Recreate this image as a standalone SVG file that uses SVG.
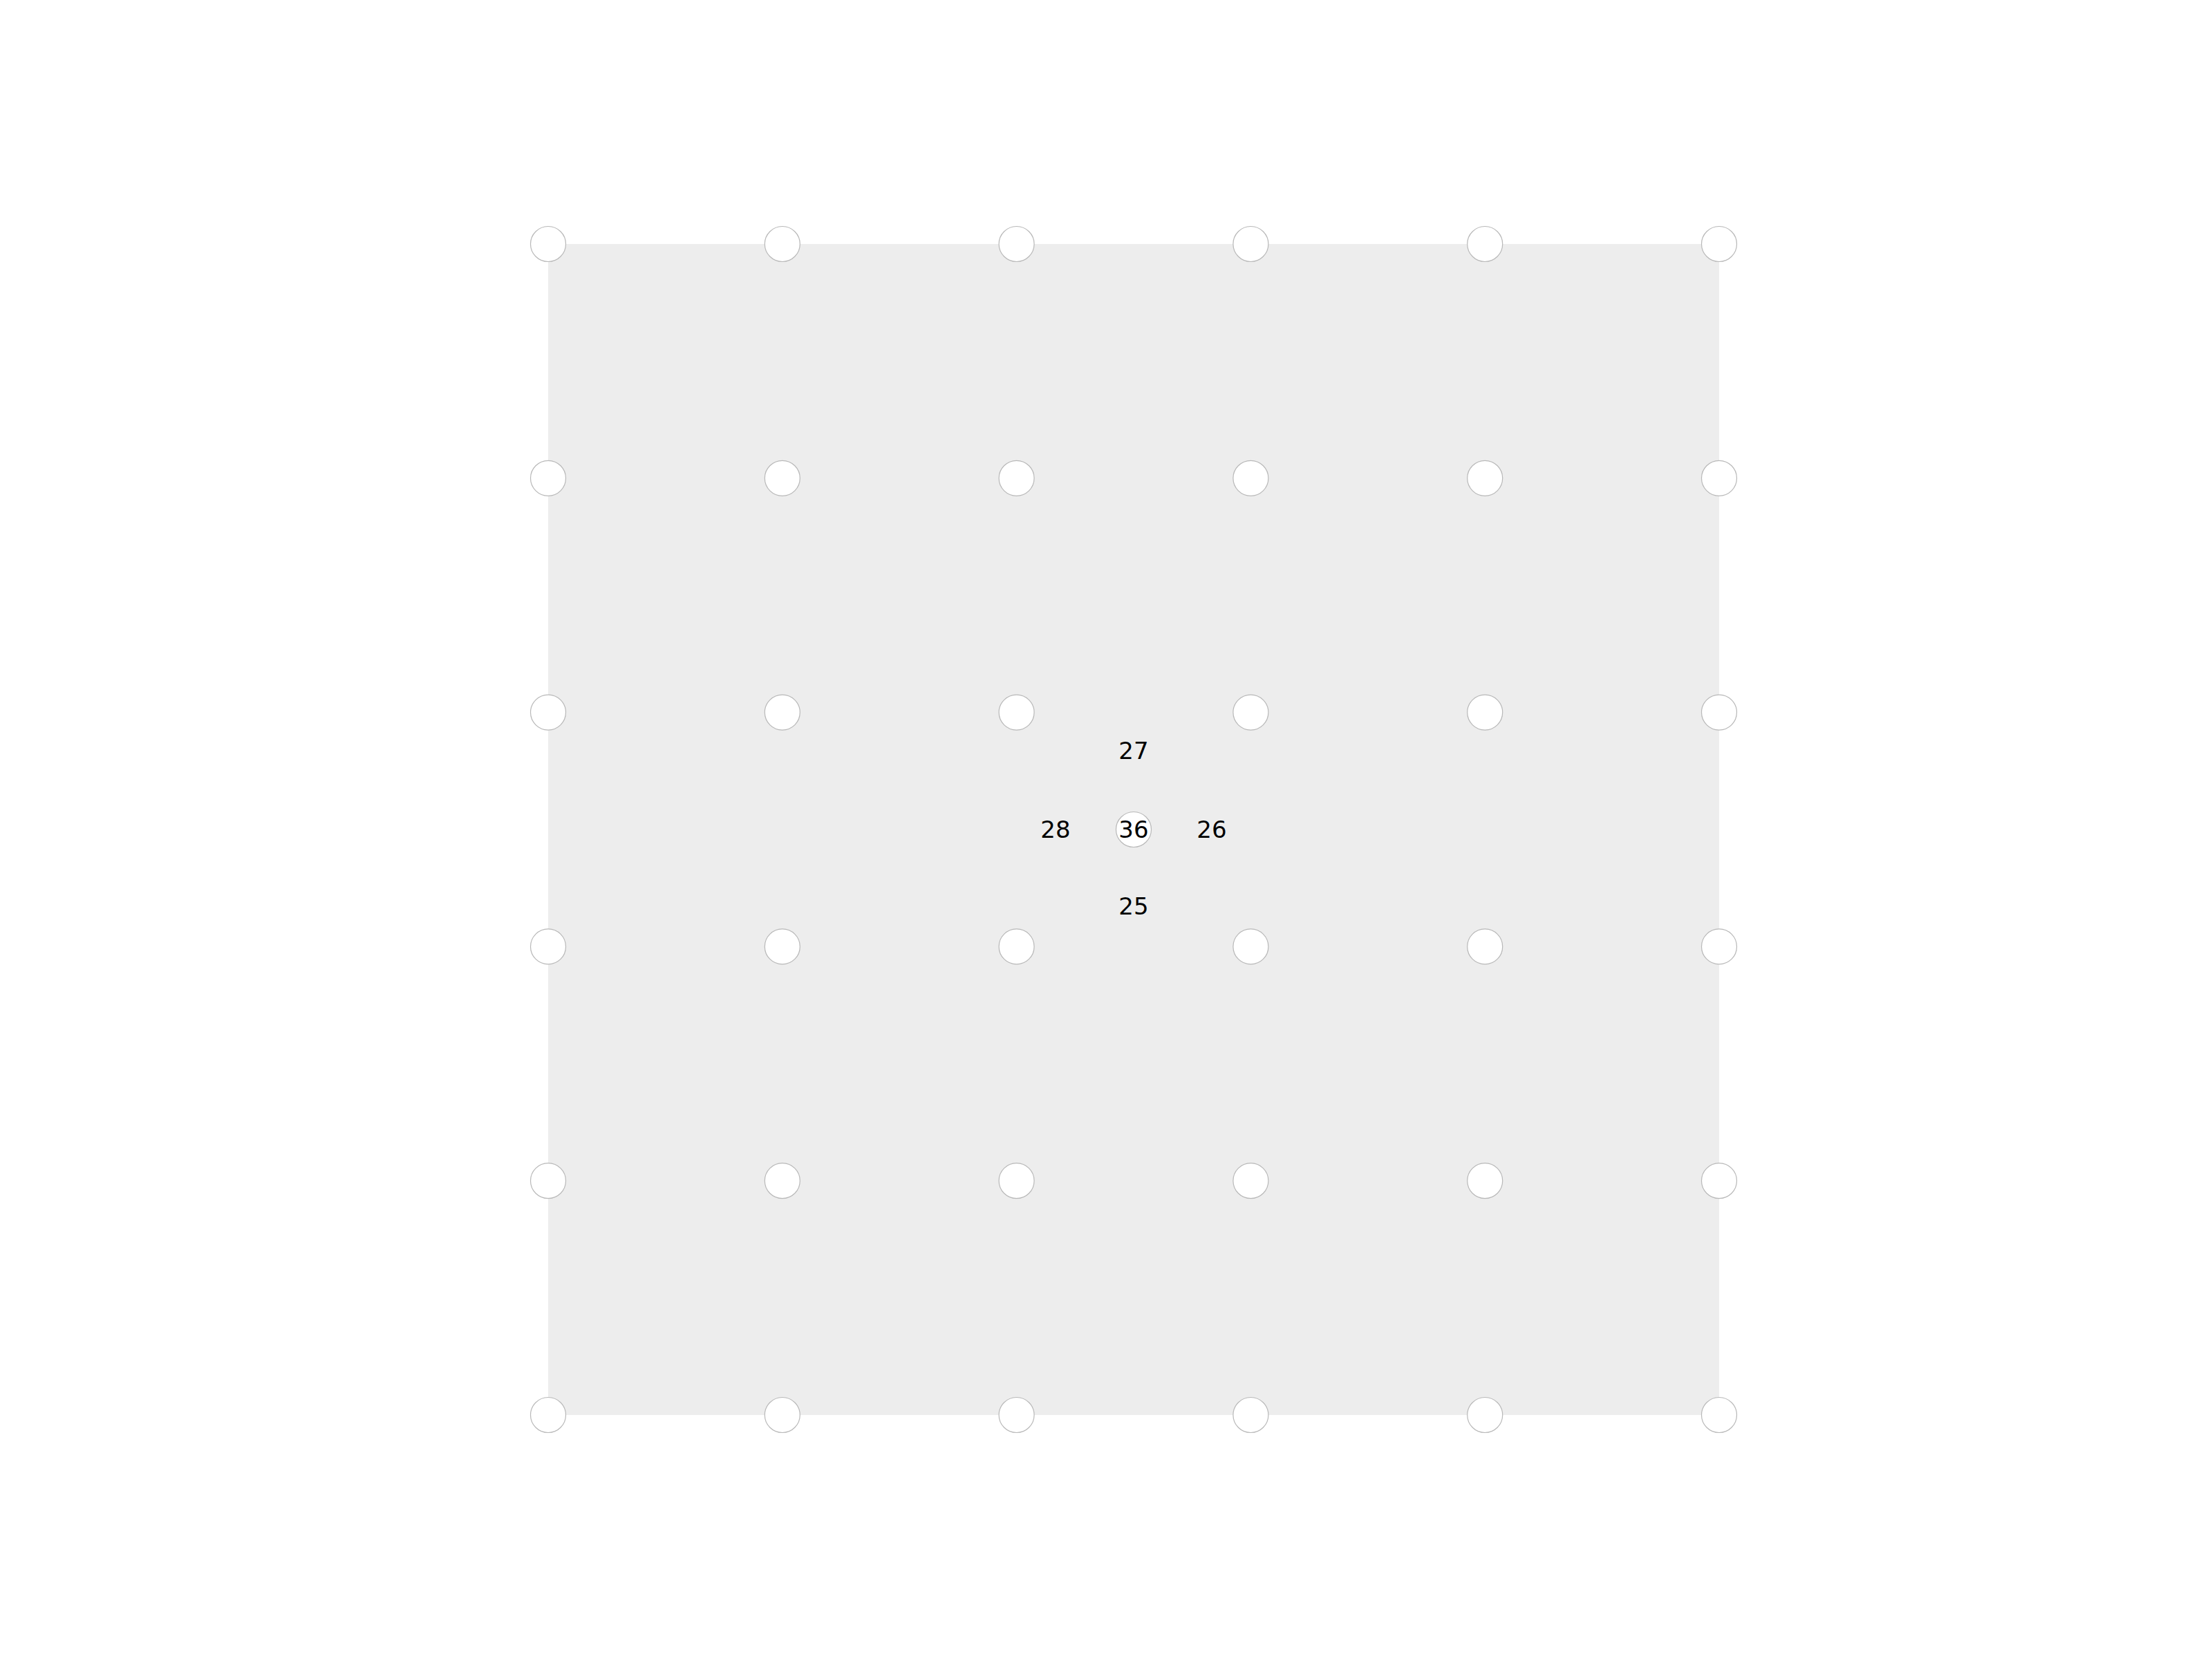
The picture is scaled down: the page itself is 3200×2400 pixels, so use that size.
<svg xmlns="http://www.w3.org/2000/svg" width="3200" height="2400" viewBox="0 0 3200 2400">
<style>
.pt{fill:#ffffff;stroke:#b8b8b8;stroke-width:1.2}
.lbl{font-family:"DejaVu Sans",sans-serif;font-size:34px;fill:#000;text-anchor:middle;dominant-baseline:central}
</style>
<rect width="3200" height="2400" fill="#ffffff"/>
<rect x="793" y="353" width="1694" height="1694" fill="#ededed"/>
<g id="grid">
<circle class="pt" cx="793" cy="353" r="25.5"/><circle class="pt" cx="1131.8" cy="353" r="25.5"/><circle class="pt" cx="1470.6" cy="353" r="25.5"/><circle class="pt" cx="1809.4" cy="353" r="25.5"/><circle class="pt" cx="2148.2" cy="353" r="25.5"/><circle class="pt" cx="2487" cy="353" r="25.5"/>
<circle class="pt" cx="793" cy="691.8" r="25.5"/><circle class="pt" cx="1131.8" cy="691.8" r="25.5"/><circle class="pt" cx="1470.6" cy="691.8" r="25.5"/><circle class="pt" cx="1809.4" cy="691.8" r="25.5"/><circle class="pt" cx="2148.2" cy="691.8" r="25.5"/><circle class="pt" cx="2487" cy="691.8" r="25.5"/>
<circle class="pt" cx="793" cy="1030.6" r="25.5"/><circle class="pt" cx="1131.8" cy="1030.6" r="25.5"/><circle class="pt" cx="1470.6" cy="1030.6" r="25.5"/><circle class="pt" cx="1809.4" cy="1030.6" r="25.5"/><circle class="pt" cx="2148.2" cy="1030.6" r="25.5"/><circle class="pt" cx="2487" cy="1030.6" r="25.5"/>
<circle class="pt" cx="793" cy="1369.4" r="25.5"/><circle class="pt" cx="1131.8" cy="1369.4" r="25.5"/><circle class="pt" cx="1470.6" cy="1369.4" r="25.5"/><circle class="pt" cx="1809.4" cy="1369.4" r="25.5"/><circle class="pt" cx="2148.2" cy="1369.4" r="25.5"/><circle class="pt" cx="2487" cy="1369.4" r="25.5"/>
<circle class="pt" cx="793" cy="1708.2" r="25.5"/><circle class="pt" cx="1131.8" cy="1708.2" r="25.5"/><circle class="pt" cx="1470.6" cy="1708.2" r="25.5"/><circle class="pt" cx="1809.4" cy="1708.2" r="25.5"/><circle class="pt" cx="2148.2" cy="1708.2" r="25.5"/><circle class="pt" cx="2487" cy="1708.2" r="25.5"/>
<circle class="pt" cx="793" cy="2047" r="25.5"/><circle class="pt" cx="1131.8" cy="2047" r="25.5"/><circle class="pt" cx="1470.6" cy="2047" r="25.5"/><circle class="pt" cx="1809.4" cy="2047" r="25.5"/><circle class="pt" cx="2148.2" cy="2047" r="25.5"/><circle class="pt" cx="2487" cy="2047" r="25.5"/>
</g>
<g id="center">
<circle class="pt" cx="1640" cy="1200" r="25.5"/>
<text class="lbl" x="1640" y="1200">36</text>
</g>
<g id="labels">
<text class="lbl" x="1640" y="1086">27</text>
<text class="lbl" x="1527" y="1200">28</text>
<text class="lbl" x="1753" y="1200">26</text>
<text class="lbl" x="1640" y="1311">25</text>
</g>
<g id="connectors"/>
</svg>
